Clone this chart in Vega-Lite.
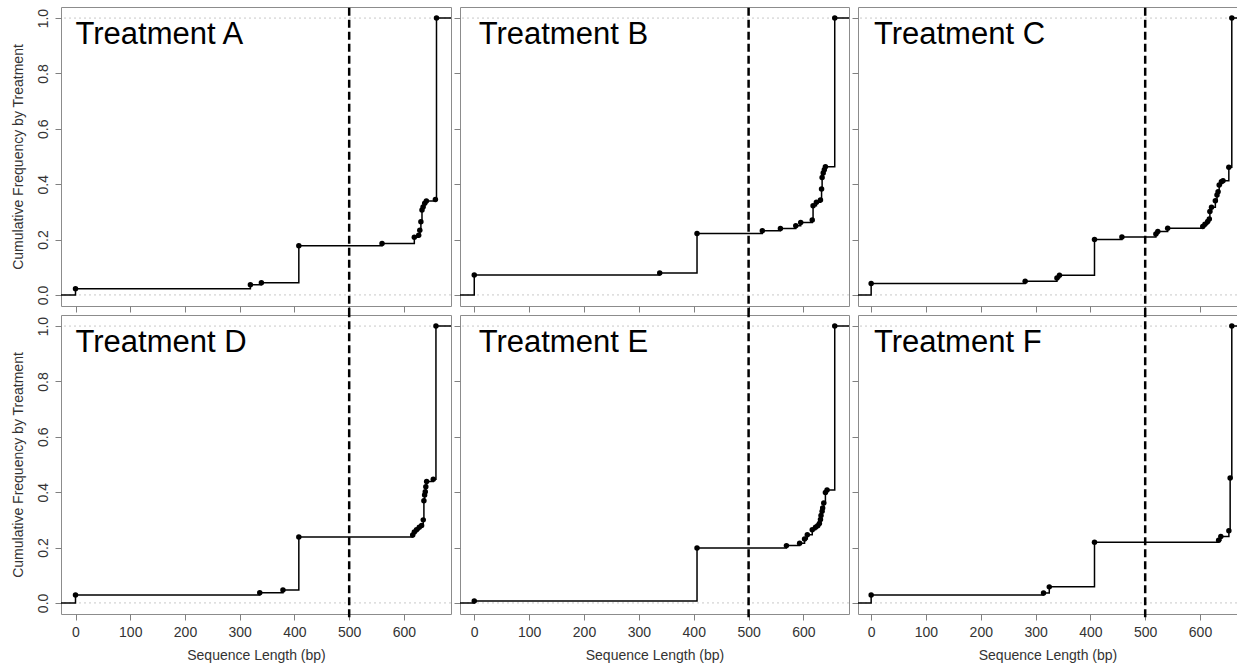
{
  "$schema": "https://vega.github.io/schema/vega-lite/v6.json",
  "padding": {"left": 10, "top": 5, "right": 0, "bottom": 0},
  "autosize": {"type": "pad"},
  "datasets": {
    "ecdf": [
      {"t": "A", "x": -26.5, "y": 0, "p": 0},
      {"t": "A", "x": 0, "y": 0.022, "p": 1},
      {"t": "A", "x": 319.5, "y": 0.037, "p": 1},
      {"t": "A", "x": 339.6, "y": 0.044, "p": 1},
      {"t": "A", "x": 408, "y": 0.178, "p": 1},
      {"t": "A", "x": 560, "y": 0.186, "p": 1},
      {"t": "A", "x": 619, "y": 0.208, "p": 1},
      {"t": "A", "x": 627, "y": 0.216, "p": 1},
      {"t": "A", "x": 629, "y": 0.234, "p": 1},
      {"t": "A", "x": 631, "y": 0.264, "p": 1},
      {"t": "A", "x": 633, "y": 0.307, "p": 1},
      {"t": "A", "x": 635, "y": 0.318, "p": 1},
      {"t": "A", "x": 638, "y": 0.331, "p": 1},
      {"t": "A", "x": 641, "y": 0.339, "p": 1},
      {"t": "A", "x": 657.5, "y": 0.345, "p": 1},
      {"t": "A", "x": 659.5, "y": 1.0, "p": 1},
      {"t": "A", "x": 690, "y": 1.0, "p": 0},

      {"t": "B", "x": -26.5, "y": 0, "p": 0},
      {"t": "B", "x": 0, "y": 0.072, "p": 1},
      {"t": "B", "x": 338, "y": 0.079, "p": 1},
      {"t": "B", "x": 406, "y": 0.222, "p": 1},
      {"t": "B", "x": 525, "y": 0.232, "p": 1},
      {"t": "B", "x": 558, "y": 0.240, "p": 1},
      {"t": "B", "x": 586, "y": 0.250, "p": 1},
      {"t": "B", "x": 595, "y": 0.262, "p": 1},
      {"t": "B", "x": 616, "y": 0.271, "p": 1},
      {"t": "B", "x": 617.5, "y": 0.322, "p": 1},
      {"t": "B", "x": 623.6, "y": 0.335, "p": 1},
      {"t": "B", "x": 631, "y": 0.343, "p": 1},
      {"t": "B", "x": 633, "y": 0.383, "p": 1},
      {"t": "B", "x": 634, "y": 0.424, "p": 1},
      {"t": "B", "x": 636, "y": 0.440, "p": 1},
      {"t": "B", "x": 638, "y": 0.452, "p": 1},
      {"t": "B", "x": 640, "y": 0.463, "p": 1},
      {"t": "B", "x": 657, "y": 1.0, "p": 1},
      {"t": "B", "x": 690, "y": 1.0, "p": 0},

      {"t": "C", "x": -26.5, "y": 0, "p": 0},
      {"t": "C", "x": 0, "y": 0.041, "p": 1},
      {"t": "C", "x": 281, "y": 0.049, "p": 1},
      {"t": "C", "x": 339, "y": 0.061, "p": 1},
      {"t": "C", "x": 343.6, "y": 0.071, "p": 1},
      {"t": "C", "x": 407.5, "y": 0.200, "p": 1},
      {"t": "C", "x": 457.5, "y": 0.209, "p": 1},
      {"t": "C", "x": 519.5, "y": 0.220, "p": 1},
      {"t": "C", "x": 523, "y": 0.229, "p": 1},
      {"t": "C", "x": 541, "y": 0.241, "p": 1},
      {"t": "C", "x": 605, "y": 0.247, "p": 1},
      {"t": "C", "x": 609, "y": 0.255, "p": 1},
      {"t": "C", "x": 614, "y": 0.265, "p": 1},
      {"t": "C", "x": 617, "y": 0.274, "p": 1},
      {"t": "C", "x": 618, "y": 0.301, "p": 1},
      {"t": "C", "x": 621, "y": 0.317, "p": 1},
      {"t": "C", "x": 628, "y": 0.340, "p": 1},
      {"t": "C", "x": 631, "y": 0.361, "p": 1},
      {"t": "C", "x": 633, "y": 0.373, "p": 1},
      {"t": "C", "x": 635, "y": 0.397, "p": 1},
      {"t": "C", "x": 639, "y": 0.409, "p": 1},
      {"t": "C", "x": 642, "y": 0.412, "p": 1},
      {"t": "C", "x": 652.6, "y": 0.461, "p": 1},
      {"t": "C", "x": 658, "y": 1.0, "p": 1},
      {"t": "C", "x": 690, "y": 1.0, "p": 0},

      {"t": "D", "x": -26.5, "y": 0, "p": 0},
      {"t": "D", "x": 0, "y": 0.029, "p": 1},
      {"t": "D", "x": 336.6, "y": 0.037, "p": 1},
      {"t": "D", "x": 379, "y": 0.047, "p": 1},
      {"t": "D", "x": 408, "y": 0.238, "p": 1},
      {"t": "D", "x": 616, "y": 0.245, "p": 1},
      {"t": "D", "x": 619, "y": 0.256, "p": 1},
      {"t": "D", "x": 623, "y": 0.264, "p": 1},
      {"t": "D", "x": 628, "y": 0.273, "p": 1},
      {"t": "D", "x": 632.3, "y": 0.280, "p": 1},
      {"t": "D", "x": 635.3, "y": 0.300, "p": 1},
      {"t": "D", "x": 636.5, "y": 0.369, "p": 1},
      {"t": "D", "x": 637.8, "y": 0.390, "p": 1},
      {"t": "D", "x": 639, "y": 0.402, "p": 1},
      {"t": "D", "x": 640, "y": 0.420, "p": 1},
      {"t": "D", "x": 641.5, "y": 0.439, "p": 1},
      {"t": "D", "x": 653.6, "y": 0.447, "p": 1},
      {"t": "D", "x": 658.5, "y": 1.0, "p": 1},
      {"t": "D", "x": 690, "y": 1.0, "p": 0},

      {"t": "E", "x": -26.5, "y": 0, "p": 0},
      {"t": "E", "x": 0, "y": 0.007, "p": 1},
      {"t": "E", "x": 406, "y": 0.198, "p": 1},
      {"t": "E", "x": 569, "y": 0.207, "p": 1},
      {"t": "E", "x": 593, "y": 0.216, "p": 1},
      {"t": "E", "x": 602, "y": 0.231, "p": 1},
      {"t": "E", "x": 607, "y": 0.246, "p": 1},
      {"t": "E", "x": 616, "y": 0.264, "p": 1},
      {"t": "E", "x": 622, "y": 0.273, "p": 1},
      {"t": "E", "x": 626, "y": 0.279, "p": 1},
      {"t": "E", "x": 629, "y": 0.287, "p": 1},
      {"t": "E", "x": 631, "y": 0.301, "p": 1},
      {"t": "E", "x": 632, "y": 0.316, "p": 1},
      {"t": "E", "x": 634, "y": 0.331, "p": 1},
      {"t": "E", "x": 635, "y": 0.343, "p": 1},
      {"t": "E", "x": 637, "y": 0.361, "p": 1},
      {"t": "E", "x": 640, "y": 0.399, "p": 1},
      {"t": "E", "x": 643, "y": 0.408, "p": 1},
      {"t": "E", "x": 657, "y": 1.0, "p": 1},
      {"t": "E", "x": 690, "y": 1.0, "p": 0},

      {"t": "F", "x": -26.5, "y": 0, "p": 0},
      {"t": "F", "x": 0, "y": 0.029, "p": 1},
      {"t": "F", "x": 314.5, "y": 0.036, "p": 1},
      {"t": "F", "x": 325, "y": 0.058, "p": 1},
      {"t": "F", "x": 407.5, "y": 0.219, "p": 1},
      {"t": "F", "x": 634, "y": 0.226, "p": 1},
      {"t": "F", "x": 638, "y": 0.240, "p": 1},
      {"t": "F", "x": 652.7, "y": 0.261, "p": 1},
      {"t": "F", "x": 655, "y": 0.451, "p": 1},
      {"t": "F", "x": 658, "y": 1.0, "p": 1},
      {"t": "F", "x": 690, "y": 1.0, "p": 0}
    ]
  },
  "columns": 3,
  "spacing": {"row": 9, "column": 9},
  "bounds": "flush",
  "concat": [
    {
      "width": 390, "height": 299,
      "layer": [
        {"data": {"values": [{"v": 0}, {"v": 1}]}, "mark": {"type": "rule", "color": "#c8c8c8", "strokeDash": [2, 3], "strokeWidth": 1},
         "encoding": {"y": {"field": "v", "type": "quantitative", "scale": {"domain": [-0.04, 1.04], "nice": false, "zero": false}}}},
        {"data": {"name": "ecdf"}, "transform": [{"filter": "datum.t == 'A'"}],
         "mark": {"type": "line", "interpolate": "step-after", "color": "black", "strokeWidth": 1.5, "clip": true},
         "encoding": {
           "x": {"field": "x", "type": "quantitative", "scale": {"domain": [-26.5, 686], "nice": false, "zero": false},
                 "axis": {"values": [0, 100, 200, 300, 400, 500, 600], "labels": false, "title": null}},
           "y": {"field": "y", "type": "quantitative", "scale": {"domain": [-0.04, 1.04], "nice": false, "zero": false},
                 "axis": {"values": [0, 0.2, 0.4, 0.6, 0.8, 1], "format": ".1f", "labelAngle": 270, "labelAlign": "center", "labelBaseline": "bottom", "labelPadding": 5, "title": "Cumulative Frequency by Treatment", "titlePadding": 11}}}},
        {"data": {"name": "ecdf"}, "transform": [{"filter": "datum.t == 'A' && datum.p == 1"}],
         "mark": {"type": "circle", "color": "black", "size": 30, "opacity": 1},
         "encoding": {"x": {"field": "x", "type": "quantitative"}, "y": {"field": "y", "type": "quantitative"}}},
        {"data": {"values": [{}]}, "mark": {"type": "rule", "color": "black", "strokeDash": [8, 4], "strokeWidth": 2.5, "clip": false},
         "encoding": {"x": {"datum": 500}, "y": {"datum": -0.075}, "y2": {"datum": 1.04}}},
        {"data": {"values": [{"label": "Treatment A"}]}, "mark": {"type": "text", "align": "left", "baseline": "alphabetic", "fontSize": 31, "color": "black"},
         "encoding": {"x": {"datum": 0}, "y": {"datum": 0.905}, "text": {"field": "label"}}}
      ]
    },
    {
      "width": 389, "height": 299,
      "layer": [
        {"data": {"values": [{"v": 0}, {"v": 1}]}, "mark": {"type": "rule", "color": "#c8c8c8", "strokeDash": [2, 3], "strokeWidth": 1},
         "encoding": {"y": {"field": "v", "type": "quantitative", "scale": {"domain": [-0.04, 1.04], "nice": false, "zero": false}}}},
        {"data": {"name": "ecdf"}, "transform": [{"filter": "datum.t == 'B'"}],
         "mark": {"type": "line", "interpolate": "step-after", "color": "black", "strokeWidth": 1.5, "clip": true},
         "encoding": {
           "x": {"field": "x", "type": "quantitative", "scale": {"domain": [-26, 683], "nice": false, "zero": false},
                 "axis": {"values": [0, 100, 200, 300, 400, 500, 600], "labels": false, "title": null}},
           "y": {"field": "y", "type": "quantitative", "scale": {"domain": [-0.04, 1.04], "nice": false, "zero": false},
                 "axis": {"values": [0, 0.2, 0.4, 0.6, 0.8, 1], "labels": false, "title": null}}}},
        {"data": {"name": "ecdf"}, "transform": [{"filter": "datum.t == 'B' && datum.p == 1"}],
         "mark": {"type": "circle", "color": "black", "size": 30, "opacity": 1},
         "encoding": {"x": {"field": "x", "type": "quantitative"}, "y": {"field": "y", "type": "quantitative"}}},
        {"data": {"values": [{}]}, "mark": {"type": "rule", "color": "black", "strokeDash": [8, 4], "strokeWidth": 2.5, "clip": false},
         "encoding": {"x": {"datum": 500}, "y": {"datum": -0.075}, "y2": {"datum": 1.04}}},
        {"data": {"values": [{"label": "Treatment B"}]}, "mark": {"type": "text", "align": "left", "baseline": "alphabetic", "fontSize": 31, "color": "black"},
         "encoding": {"x": {"datum": 8}, "y": {"datum": 0.905}, "text": {"field": "label"}}}
      ]
    },
    {
      "width": 379, "height": 299,
      "layer": [
        {"data": {"values": [{"v": 0}, {"v": 1}]}, "mark": {"type": "rule", "color": "#c8c8c8", "strokeDash": [2, 3], "strokeWidth": 1},
         "encoding": {"y": {"field": "v", "type": "quantitative", "scale": {"domain": [-0.04, 1.04], "nice": false, "zero": false}}}},
        {"data": {"name": "ecdf"}, "transform": [{"filter": "datum.t == 'C'"}],
         "mark": {"type": "line", "interpolate": "step-after", "color": "black", "strokeWidth": 1.5, "clip": true},
         "encoding": {
           "x": {"field": "x", "type": "quantitative", "scale": {"domain": [-24, 667.5], "nice": false, "zero": false},
                 "axis": {"values": [0, 100, 200, 300, 400, 500, 600], "labels": false, "title": null}},
           "y": {"field": "y", "type": "quantitative", "scale": {"domain": [-0.04, 1.04], "nice": false, "zero": false},
                 "axis": {"values": [0, 0.2, 0.4, 0.6, 0.8, 1], "labels": false, "title": null}}}},
        {"data": {"name": "ecdf"}, "transform": [{"filter": "datum.t == 'C' && datum.p == 1"}],
         "mark": {"type": "circle", "color": "black", "size": 30, "opacity": 1},
         "encoding": {"x": {"field": "x", "type": "quantitative"}, "y": {"field": "y", "type": "quantitative"}}},
        {"data": {"values": [{}]}, "mark": {"type": "rule", "color": "black", "strokeDash": [8, 4], "strokeWidth": 2.5, "clip": false},
         "encoding": {"x": {"datum": 500}, "y": {"datum": -0.075}, "y2": {"datum": 1.04}}},
        {"data": {"values": [{"label": "Treatment C"}]}, "mark": {"type": "text", "align": "left", "baseline": "alphabetic", "fontSize": 31, "color": "black"},
         "encoding": {"x": {"datum": 5}, "y": {"datum": 0.905}, "text": {"field": "label"}}}
      ]
    },
    {
      "width": 390, "height": 299,
      "layer": [
        {"data": {"values": [{"v": 0}, {"v": 1}]}, "mark": {"type": "rule", "color": "#c8c8c8", "strokeDash": [2, 3], "strokeWidth": 1},
         "encoding": {"y": {"field": "v", "type": "quantitative", "scale": {"domain": [-0.04, 1.04], "nice": false, "zero": false}}}},
        {"data": {"name": "ecdf"}, "transform": [{"filter": "datum.t == 'D'"}],
         "mark": {"type": "line", "interpolate": "step-after", "color": "black", "strokeWidth": 1.5, "clip": true},
         "encoding": {
           "x": {"field": "x", "type": "quantitative", "scale": {"domain": [-26.5, 686], "nice": false, "zero": false},
                 "axis": {"values": [0, 100, 200, 300, 400, 500, 600], "title": "Sequence Length (bp)"}},
           "y": {"field": "y", "type": "quantitative", "scale": {"domain": [-0.04, 1.04], "nice": false, "zero": false},
                 "axis": {"values": [0, 0.2, 0.4, 0.6, 0.8, 1], "format": ".1f", "labelAngle": 270, "labelAlign": "center", "labelBaseline": "bottom", "labelPadding": 5, "title": "Cumulative Frequency by Treatment", "titlePadding": 11}}}},
        {"data": {"name": "ecdf"}, "transform": [{"filter": "datum.t == 'D' && datum.p == 1"}],
         "mark": {"type": "circle", "color": "black", "size": 30, "opacity": 1},
         "encoding": {"x": {"field": "x", "type": "quantitative"}, "y": {"field": "y", "type": "quantitative"}}},
        {"data": {"values": [{}]}, "mark": {"type": "rule", "color": "black", "strokeDash": [8, 4], "strokeWidth": 2.5, "clip": false},
         "encoding": {"x": {"datum": 500}, "y": {"datum": -0.052}, "y2": {"datum": 1.04}}},
        {"data": {"values": [{"label": "Treatment D"}]}, "mark": {"type": "text", "align": "left", "baseline": "alphabetic", "fontSize": 31, "color": "black"},
         "encoding": {"x": {"datum": 0}, "y": {"datum": 0.905}, "text": {"field": "label"}}}
      ]
    },
    {
      "width": 389, "height": 299,
      "layer": [
        {"data": {"values": [{"v": 0}, {"v": 1}]}, "mark": {"type": "rule", "color": "#c8c8c8", "strokeDash": [2, 3], "strokeWidth": 1},
         "encoding": {"y": {"field": "v", "type": "quantitative", "scale": {"domain": [-0.04, 1.04], "nice": false, "zero": false}}}},
        {"data": {"name": "ecdf"}, "transform": [{"filter": "datum.t == 'E'"}],
         "mark": {"type": "line", "interpolate": "step-after", "color": "black", "strokeWidth": 1.5, "clip": true},
         "encoding": {
           "x": {"field": "x", "type": "quantitative", "scale": {"domain": [-26, 683], "nice": false, "zero": false},
                 "axis": {"values": [0, 100, 200, 300, 400, 500, 600], "title": "Sequence Length (bp)"}},
           "y": {"field": "y", "type": "quantitative", "scale": {"domain": [-0.04, 1.04], "nice": false, "zero": false},
                 "axis": {"values": [0, 0.2, 0.4, 0.6, 0.8, 1], "labels": false, "title": null}}}},
        {"data": {"name": "ecdf"}, "transform": [{"filter": "datum.t == 'E' && datum.p == 1"}],
         "mark": {"type": "circle", "color": "black", "size": 30, "opacity": 1},
         "encoding": {"x": {"field": "x", "type": "quantitative"}, "y": {"field": "y", "type": "quantitative"}}},
        {"data": {"values": [{}]}, "mark": {"type": "rule", "color": "black", "strokeDash": [8, 4], "strokeWidth": 2.5, "clip": false},
         "encoding": {"x": {"datum": 500}, "y": {"datum": -0.052}, "y2": {"datum": 1.04}}},
        {"data": {"values": [{"label": "Treatment E"}]}, "mark": {"type": "text", "align": "left", "baseline": "alphabetic", "fontSize": 31, "color": "black"},
         "encoding": {"x": {"datum": 8}, "y": {"datum": 0.905}, "text": {"field": "label"}}}
      ]
    },
    {
      "width": 379, "height": 299,
      "layer": [
        {"data": {"values": [{"v": 0}, {"v": 1}]}, "mark": {"type": "rule", "color": "#c8c8c8", "strokeDash": [2, 3], "strokeWidth": 1},
         "encoding": {"y": {"field": "v", "type": "quantitative", "scale": {"domain": [-0.04, 1.04], "nice": false, "zero": false}}}},
        {"data": {"name": "ecdf"}, "transform": [{"filter": "datum.t == 'F'"}],
         "mark": {"type": "line", "interpolate": "step-after", "color": "black", "strokeWidth": 1.5, "clip": true},
         "encoding": {
           "x": {"field": "x", "type": "quantitative", "scale": {"domain": [-24, 667.5], "nice": false, "zero": false},
                 "axis": {"values": [0, 100, 200, 300, 400, 500, 600], "title": "Sequence Length (bp)"}},
           "y": {"field": "y", "type": "quantitative", "scale": {"domain": [-0.04, 1.04], "nice": false, "zero": false},
                 "axis": {"values": [0, 0.2, 0.4, 0.6, 0.8, 1], "labels": false, "title": null}}}},
        {"data": {"name": "ecdf"}, "transform": [{"filter": "datum.t == 'F' && datum.p == 1"}],
         "mark": {"type": "circle", "color": "black", "size": 30, "opacity": 1},
         "encoding": {"x": {"field": "x", "type": "quantitative"}, "y": {"field": "y", "type": "quantitative"}}},
        {"data": {"values": [{}]}, "mark": {"type": "rule", "color": "black", "strokeDash": [8, 4], "strokeWidth": 2.5, "clip": false},
         "encoding": {"x": {"datum": 500}, "y": {"datum": -0.052}, "y2": {"datum": 1.04}}},
        {"data": {"values": [{"label": "Treatment F"}]}, "mark": {"type": "text", "align": "left", "baseline": "alphabetic", "fontSize": 31, "color": "black"},
         "encoding": {"x": {"datum": 5}, "y": {"datum": 0.905}, "text": {"field": "label"}}}
      ]
    }
  ],
  "config": {
    "font": "Liberation Sans",
    "background": "white",
    "view": {"stroke": "#8c8c8c", "strokeWidth": 1},
    "axis": {
      "grid": false,
      "domain": false,
      "tickColor": "#808080",
      "tickSize": 6,
      "labelFontSize": 14,
      "labelColor": "#333333",
      "titleFontSize": 14,
      "titleFontWeight": "normal",
      "titleColor": "#333333"
    },
    "axisX": {"labelPadding": 5, "titlePadding": 9}
  }
}
